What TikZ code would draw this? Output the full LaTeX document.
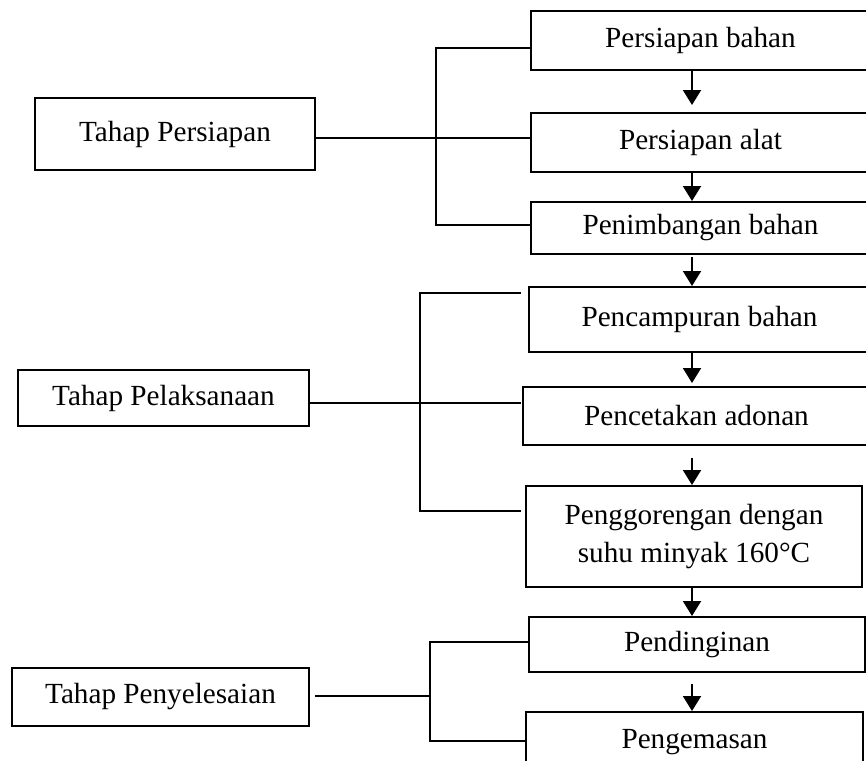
\documentclass[tikz,border=0pt]{standalone}
\usepackage{fontspec}
\setmainfont{Liberation Serif}
\usepackage{tikz}
\usetikzlibrary{arrows.meta}

\begin{document}
\begin{tikzpicture}[x=0.5pt,y=-0.5pt,line width=1pt,
		every node/.style={font=\fontsize{14.6}{19}\selectfont},
		proses/.style={draw,inner sep=0pt,align=center},
		tahap/.style={draw,inner sep=0pt},
		arr/.style={-{Triangle[length=7.5pt,width=9pt]}}]
		\useasboundingbox (0,0) rectangle (866,760);
		% langkah kerja
		\node[proses,minimum width=169.5pt,minimum height=29.5pt] (bahan) at (700.5,40.5) {Persiapan bahan};
		\node[proses,minimum width=169.5pt,minimum height=29.5pt] (alat) at (700.5,142.5) {Persiapan alat};
		\node[proses,minimum width=169.5pt,minimum height=26pt] (timbang) at (700.5,228) {Penimbangan bahan};
		\node[proses,minimum width=170.5pt,minimum height=32.5pt] (campur) at (699.5,319.5) {Pencampuran bahan};
		\node[proses,minimum width=173.5pt,minimum height=29pt] (cetak) at (696.5,416) {Pencetakan adonan};
		\node[proses,minimum width=168pt,minimum height=50.5pt] (goreng) at (694,536.5) {Penggorengan dengan\\suhu minyak 160°C};
		\node[proses,minimum width=168pt,minimum height=27.5pt] (dingin) at (697,644.5) {Pendinginan};
		\node[proses,minimum width=168.5pt,minimum height=30pt] (kemas) at (694.5,742) {Pengemasan};
		% tahap
		\node[tahap,minimum width=140pt,minimum height=36pt] (persiapan) at (175,134) {Tahap Persiapan};
		\node[tahap,minimum width=145.5pt,minimum height=28pt] (pelaksanaan) at (163.5,398) {Tahap Pelaksanaan};
		\node[tahap,minimum width=148.5pt,minimum height=29pt] (penyelesaian) at (160.5,697) {Tahap Penyelesaian};
		% kurung
		\coordinate (ax) at (692,0);
		\coordinate (t1) at (436,48);
		\coordinate (m1) at (436,138);
		\coordinate (b1) at (436,225);
		\coordinate (t2) at (420,293);
		\coordinate (m2) at (420,403);
		\coordinate (b2) at (420,511);
		\coordinate (e2) at (521,0);
		\coordinate (t3) at (430,642);
		\coordinate (m3) at (430,696);
		\coordinate (b3) at (430,741);
		\coordinate (s3) at (315,696);
		\draw (bahan.west |- t1) -- (t1) -- (b1) -- (b1 -| timbang.west);
		\draw (persiapan.east |- m1) -- (m1 -| alat.west);
		\draw (e2 |- t2) -- (t2) -- (b2) -- (b2 -| e2);
		\draw (pelaksanaan.east |- m2) -- (m2 -| e2);
		\draw (dingin.west |- t3) -- (t3) -- (b3) -- (b3 -| kemas.west);
		\draw (s3) -- (m3);
		% panah
		\draw[arr,shorten >=3.5pt] (bahan.south -| ax) -- (alat.north -| ax);
		\draw[arr] (alat.south -| ax) -- (timbang.north -| ax);
		\draw[arr,shorten <=1pt] (timbang.south -| ax) -- (campur.north -| ax);
		\draw[arr,shorten >=1.5pt] (campur.south -| ax) -- (cetak.north -| ax);
		\draw[arr,shorten <=6pt] (cetak.south -| ax) -- (goreng.north -| ax);
		\draw[arr] (goreng.south -| ax) -- (dingin.north -| ax);
		\draw[arr,shorten <=5.5pt] (dingin.south -| ax) -- (kemas.north -| ax);
\end{tikzpicture}
\end{document}
